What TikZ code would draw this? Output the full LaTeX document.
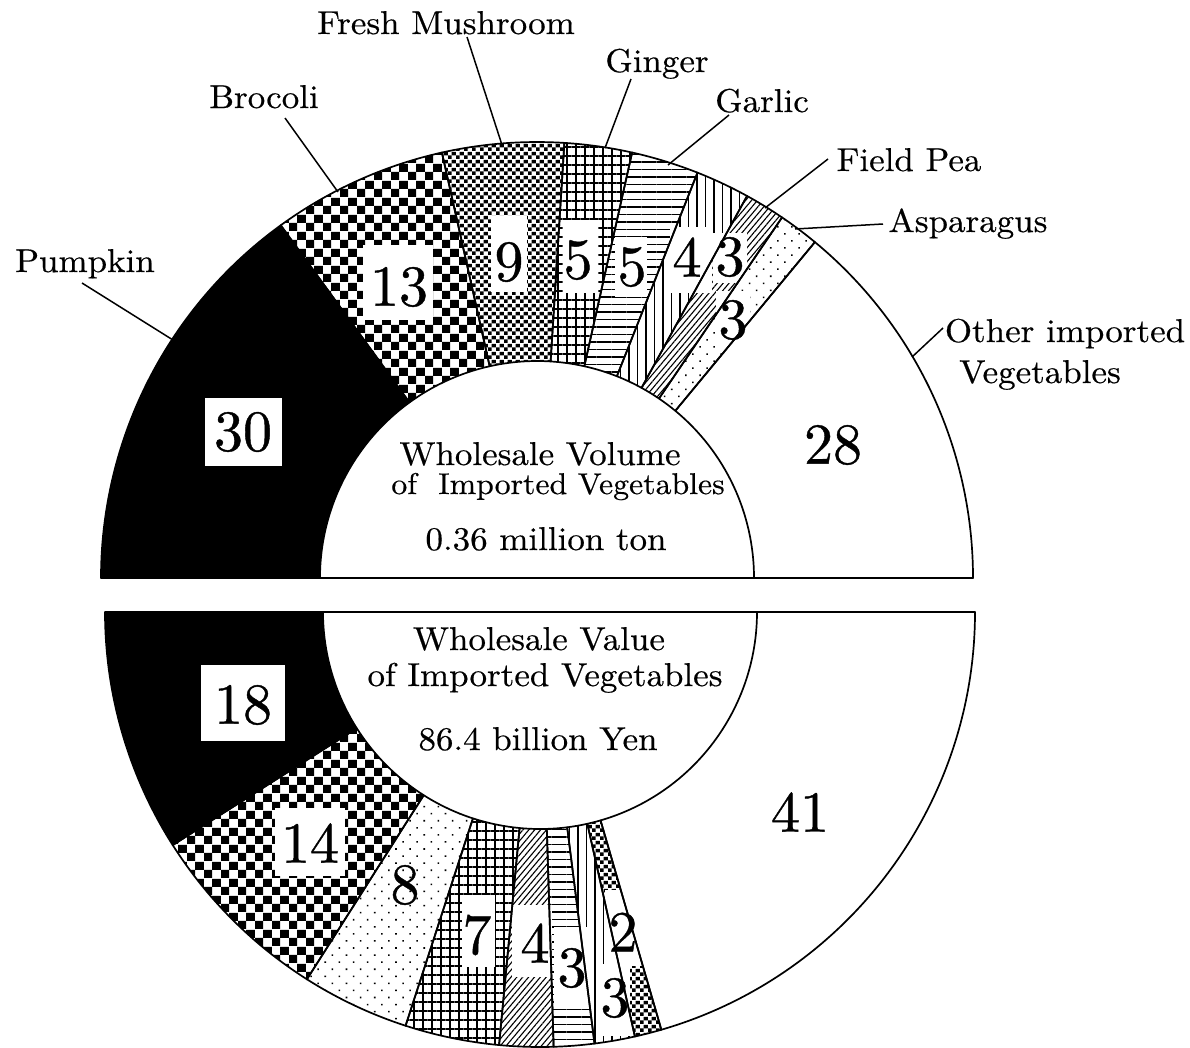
\documentclass[tikz,border=0pt]{standalone}
\usepackage{fontspec}
\newfontfamily\wfont{lmroman10-regular.otf}[FakeStretch=1.06,FakeBold=0.45]
\newfontfamily\nfont{lmroman10-regular.otf}[FakeBold=0.7]
\usetikzlibrary{patterns.meta,calc}
\tikzdeclarepattern{name=bigcheck,type=colored,bounding box={(0pt,0pt) and (17pt,17pt)},tile size={(17pt,17pt)},
  code={\fill[black] (0pt,0pt) rectangle (8.5pt,8.5pt); \fill[black] (8.5pt,8.5pt) rectangle (17pt,17pt);}}
\tikzdeclarepattern{name=smallcheck,type=colored,bounding box={(0pt,0pt) and (8pt,8pt)},tile size={(8pt,8pt)},
  code={\fill[black] (0pt,0pt) rectangle (4pt,4pt); \fill[black] (4pt,4pt) rectangle (8pt,8pt);}}
\newcommand\ringseg[6]{%
  \path[#6] ($(#1)+(#2:#4)$) arc[start angle=#2,end angle=#3,radius=#4] -- ($(#1)+(#3:#5)$) arc[start angle=#3,end angle=#2,radius=#5] -- cycle;}
\tikzset{
  segline/.style={draw=black, line width=1.7pt, line join=round},
  lead/.style={draw=black, line width=1.5pt},
  lab/.style={font={\wfont\fontsize{33}{36}\selectfont}, inner sep=0pt, anchor=base},
  ctext/.style={font={\wfont\fontsize{33}{36}\selectfont}, inner sep=0pt, anchor=base},
  ctextsm/.style={font={\wfont\fontsize{30}{34}\selectfont}, inner sep=0pt, anchor=base},
  num/.style={font={\nfont\fontsize{58}{60}\selectfont}, inner sep=0pt},
  wbox/.style={fill=white, draw=none, inner sep=0pt},
  pblack/.style={fill=black},
  pbig/.style={pattern=bigcheck},
  psmall/.style={pattern=smallcheck},
  pgrid/.style={pattern={Hatch[angle=0,distance=9pt,line width=1.6pt]}},
  phor/.style={pattern={Lines[angle=0,distance=7.5pt,line width=1.6pt]}},
  pver/.style={pattern={Lines[angle=90,distance=8.5pt,line width=1.6pt]}},
  pdiag/.style={pattern={Lines[angle=50,distance=4.5pt,line width=1.1pt]}},
  pdots/.style={pattern={Dots[distance=10pt,radius=1.1pt,angle=45]}},
}
\begin{document}
\begin{tikzpicture}[x=1pt,y=1pt]
\useasboundingbox (0,0) rectangle (1190,-1047);
\fill[white] (0,0) rectangle (1190,-1047);
\coordinate (ct) at (537,-578);
\coordinate (cb) at (540,-612);
% ---- top half: fills
\ringseg{ct}{180}{126}{436}{217}{pblack}
\ringseg{ct}{126}{102.6}{436}{217}{pbig}
\ringseg{ct}{102.6}{86.4}{436}{217}{psmall}
\ringseg{ct}{86.4}{77.4}{436}{217}{pgrid}
\ringseg{ct}{77.4}{68.4}{436}{217}{phor}
\ringseg{ct}{68.4}{61.2}{436}{217}{pver}
\ringseg{ct}{61.2}{55.8}{436}{217}{pdiag}
\ringseg{ct}{55.8}{50.4}{436}{217}{pdots}
% ---- bottom half: fills
\ringseg{cb}{180}{212.4}{435}{217}{pblack}
\ringseg{cb}{212.4}{237.6}{435}{217}{pbig}
\ringseg{cb}{237.6}{252}{435}{217}{pdots}
\ringseg{cb}{252}{264.6}{435}{217}{pgrid}
\ringseg{cb}{264.6}{271.8}{435}{217}{pdiag}
\ringseg{cb}{271.8}{277.2}{435}{217}{phor}
\ringseg{cb}{277.2}{282.6}{435}{217}{pver}
\ringseg{cb}{282.6}{286.2}{435}{217}{psmall}
% ---- white label boxes
\node[wbox, minimum width=77, minimum height=68] (b30) at (243,-432) {};
\node[wbox, minimum width=70, minimum height=75] (b13) at (398,-282) {};
\node[wbox, minimum width=36, minimum height=76] (b9) at (509,-254) {};
\node[wbox, minimum width=35, minimum height=73] (b5a) at (580,-256) {};
\node[wbox, minimum width=32, minimum height=60] (b5b) at (631,-267) {};
\node[wbox, minimum width=42, minimum height=66] (b4t) at (691,-260) {};
\node[wbox, minimum width=34, minimum height=50] (b3a) at (730,-258) {};
\node[wbox, minimum width=34, minimum height=55] (b3b) at (733,-318) {};
\node[wbox, minimum width=84, minimum height=76] (b18) at (243,-703) {};
\node[wbox, minimum width=70, minimum height=68] (b14) at (310,-842) {};
\node[wbox, minimum width=33, minimum height=72] (b7) at (478,-931) {};
\node[wbox, minimum width=40, minimum height=72] (b4b) at (532,-941) {};
\node[wbox, minimum width=36, minimum height=80] (b3c) at (572,-967) {};
\node[wbox, minimum width=44, minimum height=76] (b2) at (627,-928) {};
\node[wbox, minimum width=30, minimum height=72] (b3d) at (615,-1000) {};
% ---- outlines
\foreach \a/\b in {180/126,126/102.6,102.6/86.4,86.4/77.4,77.4/68.4,68.4/61.2,61.2/55.8,55.8/50.4,50.4/0}
  {\ringseg{ct}{\a}{\b}{436}{217}{segline}}
\foreach \a/\b in {180/212.4,212.4/237.6,237.6/252,252/264.6,264.6/271.8,271.8/277.2,277.2/282.6,282.6/286.2,286.2/360}
  {\ringseg{cb}{\a}{\b}{435}{217}{segline}}
\draw[line width=1.1pt] ($(ct)+(180:217)$) -- ($(ct)+(0:217)$);
\draw[line width=1.1pt] ($(cb)+(180:217)$) -- ($(cb)+(0:217)$);
% ---- numbers
\node[num] (n30) at (243,-432) {30};
\node[num] (n13) at (399,-287) {13};
\node[num] (n9) at (509,-262) {9};
\node[num] (n5a) at (578,-260) {5};
\node[num] (n5b) at (632,-267) {5};
\node[num] (n4t) at (687,-257) {4};
\node[num] (n3a) at (730,-257) {3};
\node[num] (n3b) at (733,-320) {3};
\node[num] (n28) at (833,-445) {28};
\node[num] (n18) at (243,-705) {18};
\node[num] (n14) at (310,-843) {14};
\node[num] (n8) at (405,-885) {8};
\node[num] (n7) at (477,-935) {7};
\node[num] (n4b) at (535,-943) {4};
\node[num] (n3c) at (572,-968) {3};
\node[num] (n2) at (623,-932) {2};
\node[num] (n3d) at (615,-998) {3};
\node[num] (n41) at (800,-812) {41};
% ---- centre texts
\node[ctext] (tv1) at (540,-465) {Wholesale Volume};
\node[ctextsm] (tv2) at (558,-494) {of\ \ Imported Vegetables};
\node[ctext] (tv3) at (546,-550) {0.36 million ton};
\node[ctext] (tw1) at (539,-650) {Wholesale Value};
\node[ctext] (tw2) at (545,-686) {of Imported Vegetables};
\node[ctext] (tw3) at (538,-750) {86.4 billion Yen};
% ---- labels
\node[lab] (lpump) at (85,-272) {Pumpkin};
\node[lab] (lbroc) at (264,-108) {Brocoli};
\node[lab] (lmush) at (446,-34) {Fresh Mushroom};
\node[lab] (lging) at (657,-72) {Ginger};
\node[lab] (lgarl) at (762,-112) {Garlic};
\node[lab] (lpea) at (909,-171) {Field Pea};
\node[lab] (lasp) at (968,-232) {Asparagus};
\node[lab] (loth1) at (1065,-342) {Other imported};
\node[lab] (loth2) at (1040,-383) {Vegetables};
% ---- leader lines
\coordinate (pumpA) at (82,-283);   \coordinate (pumpB) at (173,-340);
\coordinate (brocA) at (285,-118);  \coordinate (brocB) at (338,-192);
\coordinate (mushA) at (467,-37);   \coordinate (mushB) at (502,-145);
\coordinate (gingA) at (631,-79);   \coordinate (gingB) at (605,-148);
\coordinate (garlA) at (729,-115);  \coordinate (garlB) at (668,-165);
\coordinate (peaA) at (828,-159);   \coordinate (peaB) at (765,-208);
\coordinate (aspA) at (883,-224);   \coordinate (aspB) at (795,-229);
\coordinate (othA) at (943,-328);   \coordinate (othB) at (912,-357);
\draw[lead] (pumpA) -- (pumpB);
\draw[lead] (brocA) -- (brocB);
\draw[lead] (mushA) -- (mushB);
\draw[lead] (gingA) -- (gingB);
\draw[lead] (garlA) -- (garlB);
\draw[lead] (peaA) -- (peaB);
\draw[lead] (aspA) -- (aspB);
\draw[lead] (othA) -- (othB);
\end{tikzpicture}
\end{document}
